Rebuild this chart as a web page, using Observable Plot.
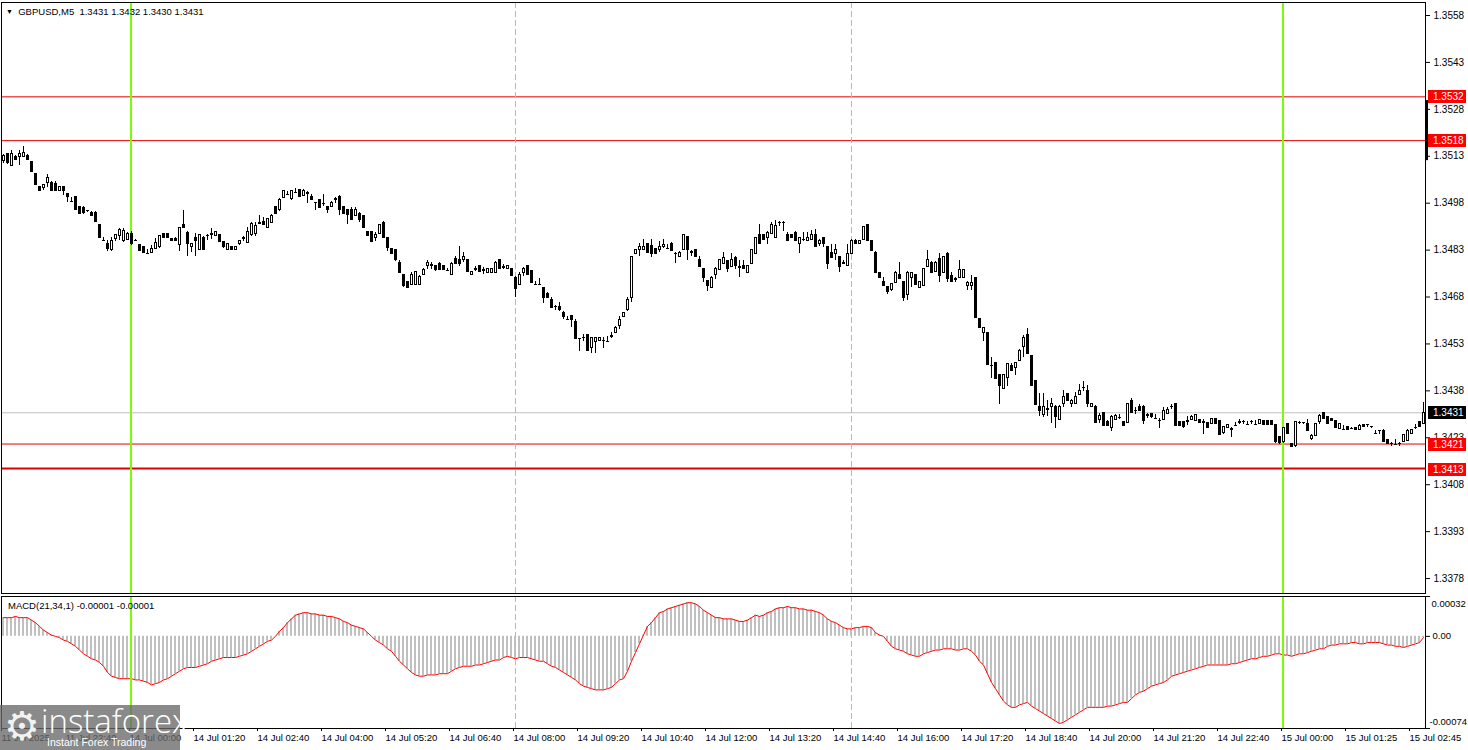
<!DOCTYPE html>
<html><head><meta charset="utf-8">
<script src="https://cdn.jsdelivr.net/npm/d3@7"></script>
<script src="https://cdn.jsdelivr.net/npm/@observablehq/plot@0.6"></script>
<style>
html,body{margin:0;padding:0;background:#fff;}
#wrap{position:relative;width:1468px;height:750px;overflow:hidden;font-family:"Liberation Sans",Arial,sans-serif;}
#pricePane{position:absolute;left:0;top:0;}
#macdPane{position:absolute;left:0;top:595px;}
.lbl{position:absolute;font-size:9.5px;color:#000;white-space:pre;line-height:1;}
#logo{position:absolute;left:0;top:705px;width:180px;height:45px;background:rgba(105,105,105,0.78);color:#fff;}
#logo .gear{position:absolute;left:4px;top:1px;font-size:40px;line-height:1;color:#f2f2f2;}
#logo .brand{position:absolute;left:41px;top:-1px;font-size:33px;line-height:1;font-family:"Open Sans","Liberation Sans",sans-serif;font-weight:300;}
#logo .tag{position:absolute;left:47px;top:32px;font-size:10.5px;line-height:1;}
</style></head><body>
<div id="wrap">
  <div id="pricePane"></div>
  <div id="macdPane"></div>
  <div class="lbl" style="left:6px;top:7px;"><span style="font-size:7px;vertical-align:1px">▼</span>  GBPUSD,M5  1.3431 1.3432 1.3430 1.3431</div>
  <div class="lbl" style="left:8px;top:601px;">MACD(21,34,1) -0.00001 -0.00001</div>
  <div id="logo"><span class="gear">⚙</span><span class="brand">instaforex</span><span class="tag">Instant Forex Trading</span></div>
</div>
<script>
// ---------- DATA ----------
// GBPUSD M5 candles: [open, high, low, close], one per bar from 11 Jul 21:20 onward
const ohlc = [
[1.35116,1.35137,1.35107,1.35130],[1.35137,1.35139,1.35105,1.35107],[1.35098,1.35148,1.35098,1.35137],[1.35129,1.35132,1.35118,1.35119],
[1.35129,1.35148,1.35100,1.35137],[1.35129,1.35161,1.35127,1.35139],[1.35132,1.35137,1.35116,1.35119],[1.35111,1.35114,1.35077,1.35079],
[1.35073,1.35075,1.35036,1.35038],[1.35031,1.35033,1.35016,1.35018],[1.35028,1.35041,1.35020,1.35038],[1.35046,1.35073,1.35031,1.35060],
[1.35046,1.35050,1.35017,1.35020],[1.35041,1.35050,1.35017,1.35020],[1.35020,1.35033,1.35017,1.35031],[1.35031,1.35033,1.35004,1.35018],
[1.35009,1.35012,1.34982,1.34999],[1.34985,1.34999,1.34984,1.34985],[1.35000,1.35001,1.34957,1.34958],[1.34968,1.34970,1.34945,1.34947],
[1.34966,1.34970,1.34945,1.34949],[1.34958,1.34958,1.34950,1.34958],[1.34950,1.34953,1.34937,1.34939],[1.34950,1.34952,1.34918,1.34919],
[1.34911,1.34912,1.34866,1.34868],[1.34860,1.34871,1.34858,1.34860],[1.34851,1.34860,1.34827,1.34832],[1.34830,1.34871,1.34827,1.34860],
[1.34865,1.34881,1.34858,1.34878],[1.34875,1.34900,1.34860,1.34894],[1.34858,1.34900,1.34855,1.34890],[1.34862,1.34887,1.34860,1.34882],
[1.34880,1.34891,1.34846,1.34849],[1.34862,1.34863,1.34861,1.34862],[1.34846,1.34848,1.34825,1.34828],[1.34840,1.34842,1.34818,1.34820],
[1.34820,1.34833,1.34818,1.34820],[1.34820,1.34846,1.34818,1.34833],[1.34833,1.34868,1.34831,1.34854],[1.34839,1.34878,1.34836,1.34875],
[1.34880,1.34882,1.34867,1.34869],[1.34880,1.34882,1.34867,1.34869],[1.34867,1.34868,1.34858,1.34860],[1.34867,1.34869,1.34858,1.34860],
[1.34847,1.34903,1.34827,1.34900],[1.34911,1.34958,1.34899,1.34900],[1.34886,1.34890,1.34808,1.34848],[1.34839,1.34851,1.34822,1.34848],
[1.34870,1.34882,1.34808,1.34860],[1.34830,1.34880,1.34828,1.34878],[1.34870,1.34875,1.34828,1.34830],[1.34878,1.34879,1.34860,1.34878],
[1.34880,1.34900,1.34865,1.34878],[1.34875,1.34890,1.34873,1.34889],[1.34878,1.34880,1.34853,1.34855],[1.34855,1.34857,1.34836,1.34839],
[1.34830,1.34850,1.34828,1.34848],[1.34840,1.34842,1.34828,1.34830],[1.34830,1.34842,1.34828,1.34840],[1.34848,1.34860,1.34845,1.34858],
[1.34866,1.34875,1.34859,1.34868],[1.34854,1.34902,1.34852,1.34889],[1.34877,1.34918,1.34875,1.34913],[1.34881,1.34918,1.34875,1.34907],
[1.34913,1.34940,1.34911,1.34916],[1.34921,1.34934,1.34909,1.34911],[1.34900,1.34931,1.34898,1.34929],[1.34918,1.34943,1.34916,1.34940],
[1.34968,1.34970,1.34945,1.34947],[1.34958,1.34994,1.34955,1.34990],[1.34998,1.35020,1.34996,1.35018],[1.35008,1.35018,1.35006,1.35008],
[1.34993,1.35022,1.34990,1.35018],[1.35014,1.35028,1.35012,1.35014],[1.35022,1.35025,1.34998,1.35001],[1.35004,1.35025,1.35002,1.35020],
[1.35012,1.35018,1.34979,1.35009],[1.35001,1.35009,1.34988,1.34990],[1.34982,1.34983,1.34958,1.34982],[1.34990,1.34993,1.34962,1.34964],
[1.34979,1.35009,1.34968,1.34977],[1.34968,1.34970,1.34947,1.34958],[1.34968,1.34984,1.34966,1.34982],[1.34990,1.34998,1.34979,1.34992],
[1.35001,1.35004,1.34940,1.34958],[1.34968,1.34971,1.34945,1.34947],[1.34958,1.34960,1.34911,1.34943],[1.34958,1.34966,1.34924,1.34926],
[1.34940,1.34966,1.34938,1.34958],[1.34947,1.34950,1.34918,1.34926],[1.34940,1.34942,1.34898,1.34900],[1.34889,1.34891,1.34873,1.34875],
[1.34889,1.34891,1.34855,1.34857],[1.34868,1.34886,1.34857,1.34877],[1.34883,1.34913,1.34881,1.34911],[1.34918,1.34921,1.34866,1.34868],
[1.34868,1.34870,1.34827,1.34838],[1.34833,1.34836,1.34817,1.34819],[1.34830,1.34832,1.34795,1.34797],[1.34790,1.34797,1.34755,1.34758],
[1.34750,1.34753,1.34710,1.34715],[1.34729,1.34731,1.34708,1.34710],[1.34720,1.34758,1.34718,1.34750],[1.34718,1.34763,1.34716,1.34761],
[1.34718,1.34748,1.34716,1.34744],[1.34750,1.34770,1.34748,1.34768],[1.34779,1.34797,1.34768,1.34790],[1.34782,1.34791,1.34768,1.34779],
[1.34779,1.34782,1.34761,1.34765],[1.34787,1.34790,1.34766,1.34768],[1.34779,1.34782,1.34766,1.34768],[1.34764,1.34770,1.34762,1.34764],
[1.34750,1.34790,1.34748,1.34787],[1.34800,1.34808,1.34785,1.34787],[1.34797,1.34840,1.34779,1.34787],[1.34797,1.34822,1.34790,1.34808],
[1.34797,1.34800,1.34760,1.34761],[1.34750,1.34763,1.34748,1.34761],[1.34768,1.34779,1.34761,1.34770],[1.34779,1.34782,1.34760,1.34761],
[1.34766,1.34774,1.34751,1.34764],[1.34758,1.34771,1.34756,1.34769],[1.34758,1.34772,1.34756,1.34769],[1.34758,1.34793,1.34756,1.34790],
[1.34798,1.34800,1.34767,1.34769],[1.34774,1.34785,1.34769,1.34776],[1.34769,1.34782,1.34767,1.34780],[1.34769,1.34771,1.34745,1.34747],
[1.34742,1.34745,1.34678,1.34705],[1.34719,1.34758,1.34717,1.34751],[1.34758,1.34774,1.34747,1.34769],[1.34780,1.34782,1.34749,1.34751],
[1.34764,1.34766,1.34724,1.34726],[1.34719,1.34731,1.34717,1.34719],[1.34719,1.34740,1.34717,1.34719],[1.34710,1.34712,1.34659,1.34678],
[1.34691,1.34693,1.34676,1.34678],[1.34669,1.34678,1.34644,1.34646],[1.34651,1.34652,1.34637,1.34651],[1.34648,1.34662,1.34635,1.34637],
[1.34630,1.34633,1.34608,1.34616],[1.34608,1.34619,1.34606,1.34608],[1.34619,1.34621,1.34582,1.34608],[1.34601,1.34608,1.34545,1.34547],
[1.34547,1.34549,1.34507,1.34547],[1.34550,1.34560,1.34539,1.34548],[1.34558,1.34560,1.34507,1.34509],[1.34517,1.34552,1.34501,1.34550],
[1.34537,1.34552,1.34501,1.34550],[1.34539,1.34552,1.34537,1.34550],[1.34541,1.34550,1.34517,1.34539],[1.34539,1.34555,1.34537,1.34539],
[1.34553,1.34566,1.34547,1.34555],[1.34566,1.34587,1.34564,1.34582],[1.34587,1.34619,1.34576,1.34608],[1.34616,1.34632,1.34614,1.34630],
[1.34637,1.34678,1.34635,1.34669],[1.34678,1.34810,1.34662,1.34808],[1.34817,1.34833,1.34815,1.34830],[1.34830,1.34851,1.34808,1.34841],
[1.34830,1.34865,1.34828,1.34841],[1.34849,1.34851,1.34820,1.34822],[1.34844,1.34865,1.34806,1.34817],[1.34833,1.34836,1.34817,1.34819],
[1.34830,1.34858,1.34822,1.34841],[1.34840,1.34865,1.34836,1.34845],[1.34836,1.34847,1.34834,1.34836],[1.34851,1.34853,1.34826,1.34828],
[1.34818,1.34822,1.34787,1.34816],[1.34808,1.34824,1.34806,1.34822],[1.34830,1.34881,1.34828,1.34879],[1.34871,1.34873,1.34798,1.34830],
[1.34824,1.34830,1.34808,1.34822],[1.34830,1.34832,1.34806,1.34808],[1.34798,1.34808,1.34774,1.34776],[1.34769,1.34771,1.34726,1.34740],
[1.34731,1.34733,1.34699,1.34715],[1.34708,1.34745,1.34706,1.34742],[1.34751,1.34774,1.34737,1.34769],[1.34766,1.34800,1.34764,1.34798],
[1.34787,1.34822,1.34785,1.34806],[1.34796,1.34798,1.34758,1.34769],[1.34776,1.34819,1.34774,1.34798],[1.34806,1.34808,1.34769,1.34779],
[1.34776,1.34796,1.34742,1.34774],[1.34779,1.34798,1.34767,1.34769],[1.34758,1.34781,1.34756,1.34779],[1.34787,1.34832,1.34785,1.34830],
[1.34819,1.34870,1.34817,1.34868],[1.34879,1.34911,1.34847,1.34849],[1.34879,1.34881,1.34860,1.34862],[1.34868,1.34888,1.34849,1.34886],
[1.34881,1.34919,1.34879,1.34911],[1.34868,1.34924,1.34866,1.34908],[1.34919,1.34920,1.34905,1.34919],[1.34919,1.34920,1.34890,1.34919],
[1.34879,1.34886,1.34856,1.34858],[1.34879,1.34881,1.34866,1.34868],[1.34886,1.34888,1.34858,1.34860],[1.34849,1.34870,1.34819,1.34868],
[1.34866,1.34886,1.34858,1.34865],[1.34860,1.34886,1.34858,1.34870],[1.34862,1.34892,1.34860,1.34879],[1.34879,1.34897,1.34838,1.34840],
[1.34849,1.34865,1.34840,1.34860],[1.34868,1.34870,1.34838,1.34849],[1.34840,1.34842,1.34769,1.34787],[1.34822,1.34849,1.34804,1.34806],
[1.34817,1.34849,1.34796,1.34830],[1.34808,1.34810,1.34758,1.34776],[1.34788,1.34798,1.34783,1.34786],[1.34779,1.34849,1.34777,1.34819],
[1.34819,1.34865,1.34817,1.34858],[1.34858,1.34865,1.34847,1.34849],[1.34849,1.34862,1.34847,1.34860],[1.34862,1.34905,1.34860,1.34903],
[1.34911,1.34913,1.34856,1.34858],[1.34860,1.34862,1.34826,1.34828],[1.34822,1.34825,1.34756,1.34758],[1.34758,1.34760,1.34740,1.34742],
[1.34729,1.34744,1.34713,1.34715],[1.34712,1.34714,1.34688,1.34697],[1.34704,1.34723,1.34699,1.34721],[1.34726,1.34763,1.34724,1.34758],
[1.34751,1.34790,1.34735,1.34737],[1.34729,1.34731,1.34667,1.34676],[1.34688,1.34761,1.34669,1.34758],[1.34742,1.34760,1.34712,1.34758],
[1.34751,1.34753,1.34716,1.34718],[1.34708,1.34731,1.34706,1.34729],[1.34715,1.34771,1.34713,1.34769],[1.34776,1.34830,1.34774,1.34798],
[1.34790,1.34792,1.34756,1.34758],[1.34761,1.34792,1.34759,1.34790],[1.34801,1.34819,1.34726,1.34747],[1.34758,1.34810,1.34756,1.34808],
[1.34819,1.34821,1.34726,1.34737],[1.34747,1.34758,1.34727,1.34729],[1.34737,1.34742,1.34726,1.34735],[1.34742,1.34798,1.34740,1.34766],
[1.34740,1.34769,1.34738,1.34766],[1.34716,1.34729,1.34700,1.34726],[1.34716,1.34748,1.34700,1.34726],[1.34740,1.34742,1.34612,1.34614],
[1.34609,1.34611,1.34578,1.34580],[1.34566,1.34582,1.34539,1.34580],[1.34566,1.34568,1.34462,1.34464],[1.34461,1.34488,1.34421,1.34459],
[1.34469,1.34471,1.34417,1.34419],[1.34430,1.34432,1.34336,1.34395],[1.34387,1.34432,1.34385,1.34430],[1.34421,1.34468,1.34395,1.34466],
[1.34459,1.34469,1.34443,1.34445],[1.34453,1.34471,1.34430,1.34469],[1.34475,1.34511,1.34473,1.34509],[1.34520,1.34558,1.34486,1.34550],
[1.34558,1.34580,1.34496,1.34498],[1.34491,1.34493,1.34393,1.34395],[1.34411,1.34413,1.34334,1.34336],[1.34330,1.34373,1.34298,1.34316],
[1.34304,1.34373,1.34295,1.34330],[1.34322,1.34349,1.34298,1.34320],[1.34327,1.34357,1.34277,1.34338],[1.34330,1.34332,1.34261,1.34295],
[1.34288,1.34332,1.34286,1.34330],[1.34338,1.34381,1.34327,1.34359],[1.34370,1.34372,1.34347,1.34349],[1.34338,1.34351,1.34327,1.34349],
[1.34338,1.34376,1.34336,1.34362],[1.34366,1.34400,1.34364,1.34379],[1.34390,1.34411,1.34379,1.34388],[1.34379,1.34398,1.34327,1.34338],
[1.34329,1.34340,1.34327,1.34338],[1.34330,1.34332,1.34275,1.34277],[1.34288,1.34309,1.34277,1.34301],[1.34309,1.34311,1.34267,1.34269],
[1.34282,1.34284,1.34267,1.34269],[1.34261,1.34300,1.34250,1.34298],[1.34288,1.34306,1.34286,1.34301],[1.34295,1.34304,1.34288,1.34294],
[1.34280,1.34282,1.34267,1.34269],[1.34277,1.34340,1.34275,1.34338],[1.34349,1.34355,1.34307,1.34309],[1.34317,1.34327,1.34304,1.34315],
[1.34330,1.34338,1.34314,1.34316],[1.34330,1.34332,1.34274,1.34284],[1.34302,1.34309,1.34293,1.34300],[1.34306,1.34309,1.34293,1.34295],
[1.34293,1.34306,1.34291,1.34293],[1.34285,1.34293,1.34261,1.34284],[1.34288,1.34327,1.34286,1.34316],[1.34306,1.34327,1.34304,1.34320],
[1.34330,1.34336,1.34320,1.34328],[1.34338,1.34340,1.34267,1.34269],[1.34280,1.34282,1.34267,1.34269],[1.34280,1.34282,1.34261,1.34266],
[1.34283,1.34298,1.34269,1.34281],[1.34288,1.34300,1.34286,1.34298],[1.34284,1.34306,1.34282,1.34304],[1.34288,1.34290,1.34275,1.34277],
[1.34280,1.34288,1.34242,1.34278],[1.34276,1.34278,1.34259,1.34261],[1.34274,1.34291,1.34272,1.34290],[1.34290,1.34292,1.34272,1.34274],
[1.34283,1.34285,1.34238,1.34240],[1.34244,1.34267,1.34242,1.34265],[1.34261,1.34274,1.34259,1.34272],[1.34257,1.34263,1.34231,1.34255],
[1.34269,1.34279,1.34267,1.34269],[1.34280,1.34290,1.34274,1.34278],[1.34283,1.34284,1.34272,1.34283],[1.34272,1.34283,1.34271,1.34272],
[1.34283,1.34284,1.34274,1.34283],[1.34274,1.34285,1.34272,1.34274],[1.34274,1.34288,1.34272,1.34287],[1.34283,1.34285,1.34271,1.34272],
[1.34283,1.34285,1.34271,1.34272],[1.34283,1.34285,1.34271,1.34272],[1.34272,1.34274,1.34213,1.34215],[1.34231,1.34233,1.34210,1.34212],
[1.34215,1.34263,1.34213,1.34261],[1.34274,1.34276,1.34240,1.34242],[1.34210,1.34212,1.34198,1.34199],[1.34204,1.34281,1.34199,1.34279],
[1.34279,1.34281,1.34274,1.34278],[1.34278,1.34280,1.34274,1.34279],[1.34274,1.34287,1.34252,1.34253],[1.34226,1.34240,1.34221,1.34237],
[1.34237,1.34276,1.34235,1.34274],[1.34279,1.34306,1.34274,1.34301],[1.34308,1.34310,1.34288,1.34290],[1.34295,1.34297,1.34272,1.34274],
[1.34290,1.34292,1.34281,1.34283],[1.34283,1.34285,1.34259,1.34261],[1.34258,1.34276,1.34256,1.34274],[1.34258,1.34269,1.34256,1.34258],
[1.34263,1.34265,1.34253,1.34255],[1.34261,1.34262,1.34255,1.34261],[1.34261,1.34263,1.34253,1.34255],[1.34255,1.34271,1.34253,1.34269],
[1.34272,1.34274,1.34263,1.34265],[1.34272,1.34273,1.34263,1.34272],[1.34265,1.34266,1.34261,1.34265],[1.34244,1.34253,1.34243,1.34244],
[1.34253,1.34254,1.34240,1.34253],[1.34253,1.34255,1.34217,1.34218],[1.34223,1.34225,1.34209,1.34210],[1.34212,1.34215,1.34201,1.34212],
[1.34210,1.34223,1.34209,1.34210],[1.34213,1.34215,1.34201,1.34212],[1.34218,1.34240,1.34216,1.34240],[1.34221,1.34255,1.34219,1.34253],
[1.34242,1.34258,1.34240,1.34255],[1.34262,1.34274,1.34255,1.34263],[1.34279,1.34281,1.34263,1.34264],[1.34274,1.34344,1.34272,1.34310]
];

// MACD(21,34,1) histogram value for each bar (signal line equals it)
const macd = [
15e-5,15e-5,15e-5,16e-5,15e-5,15e-5,15e-5,
13e-5,11e-5,8e-5,5e-5,3e-5,1e-5,0,
-1e-5,-3e-5,-4e-5,-6e-5,-8e-5,-11e-5,-14e-5,
-16e-5,-18e-5,-19e-5,-21e-5,-24e-5,-29e-5,-32e-5,
-33e-5,-34e-5,-34e-5,-34e-5,-34e-5,-35e-5,-35e-5,
-36e-5,-37e-5,-39e-5,-38e-5,-37e-5,-35e-5,-34e-5,
-32e-5,-30e-5,-28e-5,-26e-5,-25e-5,-25e-5,-25e-5,
-24e-5,-23e-5,-22e-5,-20e-5,-19e-5,-18e-5,-17e-5,
-17e-5,-17e-5,-17e-5,-16e-5,-15e-5,-14e-5,-12e-5,
-10e-5,-8e-5,-6e-5,-4e-5,-3e-5,0,4e-5,
7e-5,11e-5,14e-5,17e-5,18e-5,19e-5,19e-5,
18e-5,18e-5,17e-5,17e-5,16e-5,16e-5,15e-5,
14e-5,12e-5,11e-5,9e-5,8e-5,7e-5,6e-5,
3e-5,0,-3e-5,-5e-5,-7e-5,-10e-5,-12e-5,
-16e-5,-20e-5,-23e-5,-26e-5,-29e-5,-31e-5,-32e-5,
-32e-5,-31e-5,-31e-5,-31e-5,-30e-5,-30e-5,-30e-5,
-28e-5,-26e-5,-25e-5,-24e-5,-24e-5,-24e-5,-23e-5,
-23e-5,-22e-5,-21e-5,-20e-5,-19e-5,-19e-5,-17e-5,
-16e-5,-17e-5,-18e-5,-17e-5,-17e-5,-17e-5,-18e-5,
-19e-5,-20e-5,-20e-5,-22e-5,-24e-5,-25e-5,-27e-5,
-29e-5,-31e-5,-33e-5,-35e-5,-38e-5,-40e-5,-41e-5,
-42e-5,-43e-5,-43e-5,-43e-5,-42e-5,-41e-5,-38e-5,
-35e-5,-34e-5,-28e-5,-20e-5,-13e-5,-6e-5,1e-5,
8e-5,11e-5,15e-5,19e-5,20e-5,22e-5,23e-5,
24e-5,25e-5,26e-5,27e-5,27e-5,26e-5,24e-5,
21e-5,19e-5,17e-5,15e-5,15e-5,14e-5,14e-5,
14e-5,13e-5,12e-5,12e-5,13e-5,15e-5,17e-5,
16e-5,17e-5,19e-5,20e-5,22e-5,23e-5,23e-5,
24e-5,23e-5,23e-5,22e-5,22e-5,21e-5,21e-5,
20e-5,19e-5,17e-5,14e-5,12e-5,11e-5,9e-5,
7e-5,6e-5,6e-5,7e-5,7e-5,8e-5,8e-5,
7e-5,3e-5,1e-5,0,-4e-5,-8e-5,-10e-5,
-11e-5,-12e-5,-14e-5,-15e-5,-16e-5,-16e-5,-14e-5,
-13e-5,-12e-5,-11e-5,-11e-5,-10e-5,-10e-5,-10e-5,
-11e-5,-11e-5,-10e-5,-10e-5,-12e-5,-15e-5,-20e-5,
-23e-5,-30e-5,-37e-5,-42e-5,-47e-5,-52e-5,-55e-5,
-57e-5,-57e-5,-55e-5,-54e-5,-53e-5,-56e-5,-58e-5,
-60e-5,-62e-5,-64e-5,-66e-5,-68e-5,-70e-5,-69e-5,
-67e-5,-65e-5,-63e-5,-61e-5,-59e-5,-57e-5,-57e-5,
-57e-5,-57e-5,-57e-5,-56e-5,-56e-5,-55e-5,-54e-5,
-53e-5,-53e-5,-50e-5,-47e-5,-45e-5,-44e-5,-42e-5,
-40e-5,-39e-5,-38e-5,-37e-5,-35e-5,-32e-5,-31e-5,
-30e-5,-29e-5,-28e-5,-27e-5,-26e-5,-25e-5,-24e-5,
-23e-5,-23e-5,-23e-5,-23e-5,-23e-5,-23e-5,-22e-5,
-22e-5,-21e-5,-20e-5,-19e-5,-18e-5,-18e-5,-17e-5,
-16e-5,-16e-5,-15e-5,-14e-5,-14e-5,-15e-5,-15e-5,
-16e-5,-15e-5,-14e-5,-14e-5,-13e-5,-12e-5,-11e-5,
-10e-5,-10e-5,-8e-5,-7e-5,-7e-5,-6e-5,-6e-5,
-6e-5,-5e-5,-5e-5,-6e-5,-6e-5,-5e-5,-5e-5,
-5e-5,-5e-5,-6e-5,-7e-5,-7e-5,-8e-5,-8e-5,
-9e-5,-8e-5,-7e-5,-6e-5,-5e-5,-1e-5
];

const timeTicks  = [0,16,32,48,64,80,96,112,128,144,160,176,192,208,224,240,256,272,288,304,320,336,352];
const timeLabels = ["11 Jul 2025","11 Jul 22:40","14 Jul 00:00","14 Jul 01:20","14 Jul 02:40","14 Jul 04:00",
  "14 Jul 05:20","14 Jul 06:40","14 Jul 08:00","14 Jul 09:20","14 Jul 10:40","14 Jul 12:00","14 Jul 13:20",
  "14 Jul 14:40","14 Jul 16:00","14 Jul 17:20","14 Jul 18:40","14 Jul 20:00","14 Jul 21:20","14 Jul 22:40",
  "15 Jul 00:00","15 Jul 01:25","15 Jul 02:45"];
const priceTicks = [1.3558,1.3543,1.3528,1.3513,1.3498,1.3483,1.3468,1.3453,1.3438,1.3423,1.3408,1.3393,1.3378];
const priceDomain = [1.337322, 1.356216];
const thinRedLevels = [1.3532, 1.3518, 1.3421];
const thickRedLevel = [1.3413];
const bidLevel = [1.3431];
const levelBoxes = [
  {v:1.3532, fill:"#ff0000"},{v:1.3518, fill:"#ff0000"},{v:1.3431, fill:"#000000"},
  {v:1.3421, fill:"#ff0000"},{v:1.3413, fill:"#ff0000"}];
const greenLines  = [32, 320];
const dashedLines = [128, 212];
const edgeMarker  = [1.35308, 1.35116];
const macdDomain  = [-0.00074, 0.00032];
const macdTicks   = [0.00032, 0, -0.00074];
const macdTickLabels = ["0.00032", "0.00", "-0.00074"];

// ---------- CHART ----------
const FONT = "'Liberation Sans', Arial, sans-serif";
const xDomain = [-0.5, 355.5];
const bars = ohlc.map(([o,h,l,c], i) => ({i, o, h, l, c}));
const bodies = bars.filter(d => Math.abs(d.o - d.c) >= 0.000015);
const dojis  = bars.filter(d => Math.abs(d.o - d.c) < 0.000015);
const macdData = macd.map((v, i) => ({i, v}));
// MT4 draws a time tick at the left edge of the bar slot (3/4 bar left of the bar centre)
const slotTicks = timeTicks.map(t => t - 0.75);
const labelOf = new Map(slotTicks.map((t, k) => [t, timeLabels[k]]));

const price = Plot.plot({
  width: 1468, height: 595,
  marginLeft: 1, marginRight: 43, marginTop: 2, marginBottom: 2,
  x: {domain: xDomain, axis: null, label: null},
  y: {domain: priceDomain, axis: null, label: null},
  style: {fontFamily: FONT, fontSize: "10px", background: "transparent", color: "#000", overflow: "visible"},
  marks: [
    Plot.ruleY(bidLevel, {stroke: "#c0c0c0"}),
    Plot.ruleY(thinRedLevels, {stroke: "#e00000"}),
    Plot.ruleY(thickRedLevel, {stroke: "#e00000", strokeWidth: 2, dy: -0.5}),
    Plot.ruleX(dashedLines, {stroke: "#7cfc00", strokeDasharray: "6,3"}),
    Plot.ruleX(greenLines, {stroke: "#7cfc00", strokeWidth: 2, dx: -0.5}),
    Plot.ruleX(bars, {x: "i", y1: "l", y2: "h", stroke: "#000", shapeRendering: "crispEdges"}),
    Plot.rect(bodies, {x1: d => d.i - 0.25, x2: d => d.i + 0.25, y1: "o", y2: "c",
      fill: d => d.c > d.o ? "#fff" : "#000", stroke: "#000", shapeRendering: "crispEdges"}),
    Plot.ruleY(dojis, {y: "c", x1: d => d.i - 0.375, x2: d => d.i + 0.375, stroke: "#000", shapeRendering: "crispEdges"}),
    Plot.axisY({anchor: "right", label: null, ticks: priceTicks, tickFormat: d => d.toFixed(4), tickSize: 4, tickPadding: 4}),
    Plot.frame({stroke: "#000"})
  ]
});
document.getElementById("pricePane").appendChild(price);

// price-level boxes and right-edge marker through the plot's y scale
{
  const ys = price.scale("y");
  const svg = d3.select(price);
  const yA = ys.apply(edgeMarker[0]), yB = ys.apply(edgeMarker[1]);
  svg.append("rect").attr("x", 1425).attr("y", yA).attr("width", 3).attr("height", yB - yA).attr("fill", "#000");
  const g = svg.append("g").attr("font-family", FONT).attr("font-size", "10px").attr("text-anchor", "start");
  for (const b of levelBoxes) {
    const y = ys.apply(b.v);
    g.append("rect").attr("x", 1428).attr("y", Math.round(y) - 6).attr("width", 38).attr("height", 13).attr("fill", b.fill);
    g.append("text").attr("x", 1433).attr("y", Math.round(y) + 0.5).attr("dy", "0.35em").attr("fill", "#fff").text(b.v.toFixed(4));
  }
}

const macdPlot = Plot.plot({
  width: 1468, height: 155,
  marginLeft: 1, marginRight: 43, marginTop: 1, marginBottom: 22,
  x: {domain: xDomain, label: null},
  y: {domain: macdDomain, axis: null, label: null},
  style: {fontFamily: FONT, fontSize: "9.5px", background: "transparent", color: "#000", overflow: "visible"},
  marks: [
    Plot.ruleX(macdData, {x: "i", y1: 0, y2: "v", stroke: "#c0c0c0", strokeWidth: 2, dx: -0.5}),
    Plot.line(macdData, {x: "i", y: "v", stroke: "#ff0000", strokeWidth: 1}),
    Plot.ruleX(dashedLines, {stroke: "#7cfc00", strokeDasharray: "6,3"}),
    Plot.ruleX(greenLines, {stroke: "#7cfc00", strokeWidth: 2, dx: -0.5}),
    Plot.axisX({ticks: slotTicks, label: null, tickFormat: d => labelOf.get(d), tickSize: 3, tickPadding: 3, textAnchor: "start", dx: 1}),
    Plot.axisY({anchor: "right", label: null, ticks: macdTicks, tickFormat: () => "", tickSize: 4}),
    Plot.text([macdTicks[0]], {y: d => d, text: () => macdTickLabels[0], frameAnchor: "right", dx: 6, dy: 7, textAnchor: "start"}),
    Plot.text([macdTicks[1]], {y: d => d, text: () => macdTickLabels[1], frameAnchor: "right", dx: 7, textAnchor: "start"}),
    Plot.text([macdTicks[2]], {y: d => d, text: () => macdTickLabels[2], frameAnchor: "right", dx: 4, dy: -7, textAnchor: "start"}),
    Plot.frame({stroke: "#000"})
  ]
});
document.getElementById("macdPane").appendChild(macdPlot);
</script>
</body></html>
